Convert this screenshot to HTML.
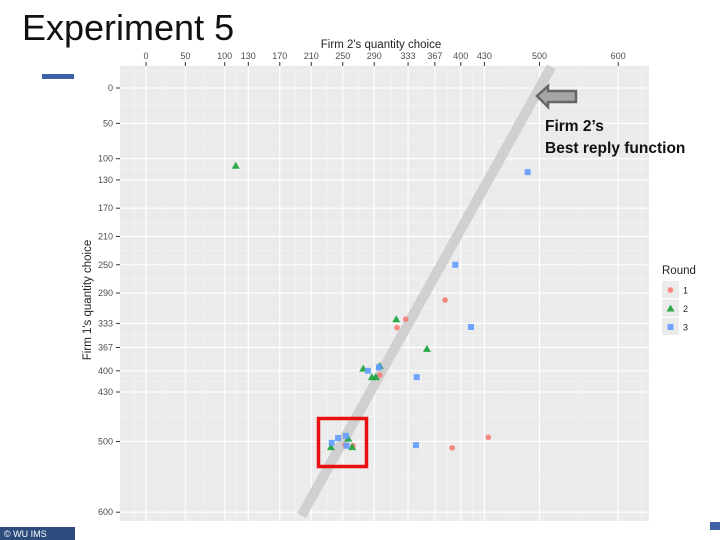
<!DOCTYPE html>
<html><head><meta charset="utf-8"><style>
body{margin:0;background:#fff;font-family:"Liberation Sans",sans-serif;}
#wrap{position:relative;width:720px;height:540px;overflow:hidden;}
</style></head><body>
<div id="wrap">
<svg id="chart" width="720" height="540" style="position:absolute;left:0;top:0">
<text x="22" y="40" font-size="36" fill="#111" font-family="Liberation Sans, sans-serif">Experiment 5</text>
<rect x="42" y="74" width="32" height="5" fill="#3f62a6"/>
<rect x="0" y="527" width="75" height="13" fill="#2e4b7d"/>
<text x="4" y="537" font-size="9" fill="#fff">© WU IMS</text>
<rect x="710" y="522" width="10" height="8" fill="#3f62a6"/>
<g id="plot"></g>
</svg>
</div>
<script>
const xTicks=[0,50,100,130,170,210,250,290,333,367,400,430,500,600];
const yTicks=[0,50,100,130,170,210,250,290,333,367,400,430,500,600];
const r1x=[380,330,319,297,435,389,263,253];
const r1y=[300,327,339,406,494,509,506,505];
const r2x=[114,318,357,276,287,292,297,235,262,257];
const r2y=[110,327,369,397,409,409,393,508,508,496];
const r3x=[485,393,413,282,296,344,343,236,244,254,255];
const r3y=[119,250,338,400,395,409,505,502,495,492,506];
const bestReply=[[-30,515],[605,197.5]];

const NS="http://www.w3.org/2000/svg";
const g=document.getElementById('plot');
const X=v=>146+0.787*v, Y=v=>88+0.707*v;
const PL=120,PR=649,PT=66,PB=521;
function el(t,a,p){const e=document.createElementNS(NS,t);for(const k in a)e.setAttribute(k,a[k]);(p||g).appendChild(e);return e;}
const bg=el('rect',{x:PL,y:PT,width:PR-PL,height:PB-PT,fill:'#ebebeb'});


function minors(t){const m=[];for(let i=0;i<t.length-1;i++)m.push((t[i]+t[i+1])/2);return m;}
minors(xTicks).concat([-15,630]).forEach(v=>{const l=el('line',{x1:X(v),x2:X(v),y1:PT,y2:PB,stroke:'#f5f5f5','stroke-width':0.6});});
minors(yTicks).concat([-25,630]).forEach(v=>{if(Y(v)<PT||Y(v)>PB)return;const l=el('line',{x1:PL,x2:PR,y1:Y(v),y2:Y(v),stroke:'#f5f5f5','stroke-width':0.6});});
xTicks.forEach(v=>{
const l=el('line',{x1:X(v),x2:X(v),y1:PT,y2:PB,stroke:'#fff','stroke-width':1.1});


const tk=el('line',{x1:X(v),x2:X(v),y1:PT-4,y2:PT,stroke:'#333','stroke-width':1});


const t=el('text',{x:X(v),y:PT-7,'font-size':9,fill:'#4d4d4d','text-anchor':'middle'});t.textContent=v;


});
yTicks.forEach(v=>{
const l=el('line',{x1:PL,x2:PR,y1:Y(v),y2:Y(v),stroke:'#fff','stroke-width':1.1});


const tk=el('line',{x1:PL-4,x2:PL,y1:Y(v),y2:Y(v),stroke:'#333','stroke-width':1});


const t=el('text',{x:PL-7,y:Y(v)+3,'font-size':9,fill:'#4d4d4d','text-anchor':'end'});t.textContent=v;


});
const br=el('line',{x1:X(bestReply[0][1]),y1:Y(bestReply[0][0]),x2:X(bestReply[1][1]),y2:Y(bestReply[1][0]),stroke:'#d0d0d0','stroke-width':10});


function circ(x,y,name){const e=el('circle',{cx:x,cy:y,r:2.8,fill:'#f8766d','fill-opacity':0.85});}
function tri(x,y,name){const e=el('polygon',{points:`${x},${y-4} ${x-4},${y+3} ${x+4},${y+3}`,fill:'#1aa33c','fill-opacity':0.9});}
function sq(x,y,name){const e=el('rect',{x:x-3,y:y-3,width:6,height:6,fill:'#619cff','fill-opacity':0.9});}
r1x.forEach((v,i)=>circ(X(v),Y(r1y[i]),'round1-point'));
r2x.forEach((v,i)=>tri(X(v),Y(r2y[i]),'round2-point'));
r3x.forEach((v,i)=>sq(X(v),Y(r3y[i]),'round3-point'));
const hl=el('rect',{x:318.5,y:418.5,width:48,height:48,fill:'none',stroke:'#e81010','stroke-width':3.5});


const xt=el('text',{x:381,y:48,'font-size':11.5,fill:'#222','text-anchor':'middle'});xt.textContent="Firm 2's quantity choice";


const yt=el('text',{x:0,y:0,'font-size':11.5,fill:'#222','text-anchor':'middle',transform:'translate(91,300) rotate(-90)'});yt.textContent="Firm 1's quantity choice";


const ar=el('polygon',{points:'537,96 548,86 548,91 576,91 576,102 548,102 548,107',fill:'#a6a6a6',stroke:'#666','stroke-width':2.5});


const a1=el('text',{x:545,y:131,'font-size':15.5,'font-weight':'bold',fill:'#111'});a1.textContent="Firm 2’s";


const a2=el('text',{x:545,y:153,'font-size':15.5,'font-weight':'bold',fill:'#111'});a2.textContent="Best reply function";


const lt=el('text',{x:662,y:274,'font-size':11.5,fill:'#222'});lt.textContent='Round';


[['1',circ,'legend-round1'],['2',tri,'legend-round2'],['3',sq,'legend-round3']].forEach((d,i)=>{
const cy=290+i*18.5;
const k=el('rect',{x:662,y:cy-9,width:17,height:17,fill:'#ebebeb'});


d[1](670.5,cy,d[2]);
const t=el('text',{x:683,y:cy+3.5,'font-size':9,fill:'#222'});t.textContent=d[0];


});
</script>
</body></html>
